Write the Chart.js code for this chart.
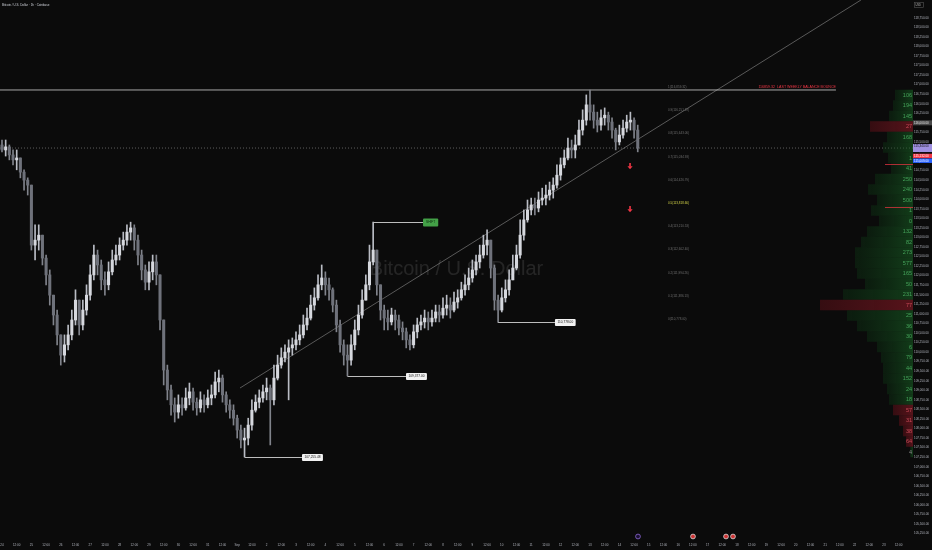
<!DOCTYPE html>
<html>
<head>
<meta charset="utf-8">
<title>BTCUSD 1h</title>
<script src="https://cdn.jsdelivr.net/npm/chart.js@4.4.1/dist/chart.umd.min.js"></script>
<style>
  html, body { margin: 0; padding: 0; background: #0b0b0b; }
  #box { width: 932px; height: 550px; }
</style>
</head>
<body>
<div id="box"><canvas id="btcChart" width="932" height="550"></canvas></div>
<script>
// time axis: one name per day, Aug 24 .. Sep 23
const dayNames = ['24','25','26','27','28','29','30','31','Sep','2','3','4','5','6','7','8','9','10','11','12','13','14','15','16','17','18','19','20','21','22','23'];

// 3h candles (first candle starts Aug 24 00:00)
const firstOpen = 115420;
const closes = [
  115290,115370,115160,115030,115080,114710,114500,114370,112800,112930,
  113060,112460,112020,111490,110970,110450,109920,110190,110450,110840,
  111360,110710,111100,111490,112020,112540,112280,111890,111760,112100,
  112410,112540,112800,112930,113140,113250,112930,112540,112150,111830,
  112100,112360,112020,110840,109530,109010,108620,108430,108620,108540,
  108800,108960,108690,108540,108750,108620,108800,108880,109220,109320,
  108880,108620,108480,108270,107960,107700,107750,108090,108480,108690,
  108800,108960,109060,108750,109320,109660,109850,110000,110110,110190,
  110320,110450,110710,110890,111230,111420,111760,111940,111760,111630,
  111230,110710,110190,109920,109790,110190,110580,110970,111360,111760,
  112360,112670,111760,111100,110890,110790,110970,110840,110630,110530,
  110320,110190,110530,110710,110790,110890,110790,110890,111050,110970,
  111150,111230,111100,111310,111420,111630,111760,111940,112150,112360,
  112540,112800,112930,112200,111360,111100,111420,111630,111890,112200,
  112540,113060,113460,113720,113850,113770,113980,114030,114110,114240,
  114370,114630,114900,115080,115340,115290,115420,115810,116070,116470,
  116280,116070,115940,116130,116200,116020,115810,115500,115680,115860,
  116020,116070,115810,115340
];
const highs = [
  115550,115550,115420,115290,115290,115030,114770,114560,114370,113330,
  113330,113060,112540,112150,111490,111100,110450,110450,110710,111100,
  111630,111360,111360,111760,112280,112800,112670,112410,112100,112360,
  112670,112800,112990,113140,113330,113400,113330,113060,112670,112280,
  112360,112540,112540,112020,110840,109660,109140,108800,108880,108800,
  109060,109190,109060,108800,108960,108880,109010,109140,109480,109530,
  109400,108960,108750,108620,108350,108090,108010,108270,108750,108880,
  109010,109140,109320,109140,109660,109920,110110,110190,110320,110370,
  110530,110710,110970,111150,111490,111680,112020,112280,112100,111940,
  111680,111360,110840,110320,110190,110450,110840,111230,111630,112020,
  112800,113405,112670,111760,111230,111100,111150,111100,110970,110790,
  110630,110450,110710,110890,110970,111100,111050,111100,111230,111230,
  111420,111490,111420,111570,111630,111830,112020,112200,112410,112540,
  112800,113060,113200,112930,112280,111490,111680,111890,112150,112540,
  112800,113460,113720,113980,114030,114030,114190,114290,114370,114450,
  114560,114900,115080,115290,115600,115550,115680,116070,116340,116730,
  116859.32,116470,116280,116340,116390,116280,116130,115860,115940,116070,
  116200,116280,116130,115940
];
const lows = [
  115240,115130,115030,114900,114770,114560,114240,114110,112670,112410,
  112670,112280,111760,111230,110710,110190,109660,109740,110060,110320,
  110710,110450,110580,110970,111360,111890,112020,111630,111490,111630,
  112020,112280,112410,112670,112800,112930,112670,112280,111890,111630,
  111630,111890,111760,110580,109140,108750,108350,108170,108270,108350,
  108480,108620,108480,108350,108430,108430,108540,108620,108800,108960,
  108690,108430,108270,108090,107750,107490,107255.48,107570,107960,108430,
  108540,108690,108750,107570,108620,109270,109580,109740,108750,109920,
  110060,110190,110370,110580,110840,111100,111360,111630,111490,111360,
  111050,110530,110000,109660,109377.00,109660,110060,110450,110890,111360,
  111630,112280,111490,110840,110580,110580,110710,110580,110450,110320,
  110110,110060,110110,110370,110580,110630,110580,110680,110790,110790,
  110890,110970,110890,111050,111150,111360,111490,111630,111830,112020,
  112200,112460,112540,111940,111100,110778.00,111050,111310,111490,111890,
  112150,112460,112930,113400,113590,113590,113670,113850,113850,113980,
  114030,114290,114500,114820,115030,115080,115080,115420,115680,115940,
  116070,115860,115760,115810,115940,115810,115600,115290,115420,115600,
  115760,115810,115600,115240
];

// y axis range and x axis range (hours from Aug 24 00:00)
const priceMin = 105135, priceMax = 119214;
const hourMin = -1.63, hourMax = 743.7;

// drawn levels
const balancePrice = 116859.32;
const balanceEndHour = 680.8;
const balanceText = '116859.32  LAST WEEKLY BALANCE BOUNCE';
const trendHours = [194.3, 701.2];
const trendPrices = [109060, 119214];

// equal-step levels between the weekly high and the last higher low
const levelRatios = ['1', '0.9', '0.8', '0.7', '0.6', '0.5', '0.4', '0.3', '0.2', '0.1', '0'];
const levelPrices = [116859.32, 116251.19, 115643.06, 115034.93, 114426.79, 113818.66, 113210.53, 112602.40, 111994.26, 111386.13, 110778.00];
const levelLabelHour = 543.7;

// swing notes
const noteHours = [198, 282, 405, 303];
const noteEndHours = [244.9, 329.8, 451.4, 343.7];
const notePrices = [107255.48, 109377.00, 110778.00, 113405.00];
const noteTexts = ['107,255.48', '109,377.00', '110,778.00', 'SHIFT'];

// sell arrows
const arrowHours = [512.7, 512.7];
const arrowPrices = [114844, 113718];

// volume profile rows (bucket centre price, volume, delta, side)
const profilePrices = [116728,116453,116178,115904,115629,115354,115079,114804,114530,114255,113980,113705,113430,113156,112881,112606,112331,112056,111782,111507,111232,110957,110682,110408,110133,109858,109583,109308,109034,108759,108484,108209,107934,107660,107385];
const profileVol = [18,20,24,43,26,30,25,22,38,45,36,42,34,46,52,58,58,56,48,70,93,66,56,46,36,32,30,30,26,24,20,14,10,7,3];
const profileDelta = ['106','194','145','27','168','','1','41','250','240','500','1','0','132','82','273','577','165','50','231','77','25','36','30','6','79','44','152','24','18','57','31','38','64','4'];
const profileSide = ['b','b','b','s','b','b','b','b','b','b','b','b','b','b','b','b','b','b','b','b','s','b','b','b','b','b','b','b','b','b','s','s','s','s','n'];

const FONT = '"Liberation Sans", Arial, sans-serif';

const opens = closes.map((c, i) => i === 0 ? firstOpen : closes[i - 1]);
const hi = highs.map((h, i) => Math.max(h, opens[i], closes[i]));
const lo = lows.map((l, i) => Math.min(l, opens[i], closes[i]));
const lastClose = closes[closes.length - 1];

function fmt(p) {
  return p.toLocaleString('en-US', { minimumFractionDigits: 2, maximumFractionDigits: 2 });
}

// everything TradingView draws on top of the candles
const overlayPlugin = {
  id: 'overlay',
  beforeDatasetsDraw(chart) {
    const { ctx, chartArea } = chart;
    ctx.save();
    ctx.font = '20px ' + FONT;
    ctx.fillStyle = 'rgba(255,255,255,0.11)';
    ctx.textAlign = 'center';
    ctx.textBaseline = 'middle';
    ctx.fillText('Bitcoin / U.S. Dollar', (chartArea.left + chartArea.right) / 2, (chartArea.top + chartArea.bottom) / 2);
    ctx.restore();
  },
  afterDatasetsDraw(chart) {
    const { ctx, chartArea } = chart;
    const xs = chart.scales.x, ys = chart.scales.y;
    ctx.save();

    // volume profile
    const rowH = Math.abs(ys.getPixelForValue(0) - ys.getPixelForValue(274.8));
    const maxVol = Math.max(...profileVol);
    profilePrices.forEach((p, i) => {
      const y = ys.getPixelForValue(p);
      const w = profileVol[i] / maxVol * 93;
      const x0 = chartArea.right - w;
      const g = ctx.createLinearGradient(x0, 0, chartArea.right, 0);
      if (profileSide[i] === 's') {
        g.addColorStop(0, 'rgba(90,16,24,0.55)');
        g.addColorStop(1, 'rgba(120,24,34,0.7)');
      } else {
        g.addColorStop(0, 'rgba(14,60,22,0.35)');
        g.addColorStop(1, 'rgba(24,95,36,0.6)');
      }
      ctx.fillStyle = g;
      ctx.fillRect(x0, y - rowH / 2, w, rowH);
    });
    ctx.font = '5.5px ' + FONT;
    ctx.textAlign = 'right';
    ctx.textBaseline = 'middle';
    profilePrices.forEach((p, i) => {
      const s = profileSide[i];
      ctx.fillStyle = s === 's' ? '#c94a58' : (s === 'n' ? '#8a8a8a' : '#45a35a');
      ctx.fillText(profileDelta[i], chartArea.right - 1, ys.getPixelForValue(p));
    });

    // balance level text
    ctx.font = '3.6px ' + FONT;
    ctx.fillStyle = '#f23645';
    ctx.textAlign = 'right';
    ctx.textBaseline = 'bottom';
    ctx.fillText(balanceText, xs.getPixelForValue(balanceEndHour), ys.getPixelForValue(balancePrice) - 1.5);

    // level labels
    ctx.font = '3px ' + FONT;
    ctx.textAlign = 'left';
    ctx.textBaseline = 'middle';
    levelPrices.forEach((p, i) => {
      ctx.fillStyle = levelRatios[i] === '0.5' ? '#d8d84a' : '#6f6f6f';
      ctx.fillText(levelRatios[i] + '(' + fmt(p) + ')', xs.getPixelForValue(levelLabelHour), ys.getPixelForValue(p) - 3);
    });

    // swing notes
    noteHours.forEach((h, i) => {
      const y = Math.round(ys.getPixelForValue(notePrices[i])) + 0.5;
      const x0 = xs.getPixelForValue(h), x1 = xs.getPixelForValue(noteEndHours[i]);
      ctx.strokeStyle = '#bdbdbd';
      ctx.lineWidth = 1;
      ctx.beginPath(); ctx.moveTo(x0, y); ctx.lineTo(x1, y); ctx.stroke();
      ctx.font = '3.2px ' + FONT;
      const tw = ctx.measureText(noteTexts[i]).width;
      const shift = noteTexts[i] === 'SHIFT';
      const bw = tw + (shift ? 6 : 5), bh = shift ? 8 : 7;
      ctx.fillStyle = shift ? '#43a047' : '#f2f2f2';
      ctx.beginPath();
      ctx.roundRect(x1, y - bh / 2, bw, bh, 1);
      ctx.fill();
      ctx.fillStyle = shift ? '#0c2a0e' : '#111';
      ctx.textAlign = 'center';
      ctx.fillText(noteTexts[i], x1 + bw / 2, y);
    });

    // sell arrows and their axis ticks
    arrowHours.forEach((h, i) => {
      const x = xs.getPixelForValue(h), y = ys.getPixelForValue(arrowPrices[i]);
      ctx.fillStyle = '#f23645';
      ctx.fillRect(x - 0.8, y - 4, 1.6, 3.5);
      ctx.beginPath();
      ctx.moveTo(x - 2.6, y - 0.8); ctx.lineTo(x + 2.6, y - 0.8); ctx.lineTo(x, y + 2.2);
      ctx.closePath(); ctx.fill();
      const ty = Math.round(y - 3) + 0.5;
      ctx.strokeStyle = 'rgba(242,54,69,0.7)';
      ctx.beginPath(); ctx.moveTo(chartArea.right - 28, ty); ctx.lineTo(chartArea.right, ty); ctx.stroke();
    });
    ctx.restore();
  },
  afterDraw(chart) {
    const { ctx, chartArea } = chart;
    const ys = chart.scales.y;
    ctx.save();
    // title
    ctx.font = '3px ' + FONT;
    ctx.fillStyle = '#d1d4dc';
    ctx.textAlign = 'left';
    ctx.textBaseline = 'middle';
    ctx.fillText('Bitcoin / U.S. Dollar · 1h · Coinbase', 2, 5);

    // USD box
    ctx.strokeStyle = '#555';
    ctx.lineWidth = 0.6;
    ctx.strokeRect(914.5, 2.5, 9, 5);
    ctx.fillStyle = '#bbb';
    ctx.font = '2.6px ' + FONT;
    ctx.fillText('USD', 915.5, 5);

    // axis price boxes
    const boxes = [
      { p: 116000, bg: '#4a4a4a', fg: '#e0e0e0', t: '116,000.00', h: 5 },
      { p: lastClose, bg: '#9e8fe0', fg: '#111', t: fmt(lastClose), h: 8 },
      { p: 115132, bg: '#f23645', fg: '#fff', t: '115,132.00', h: 4.5 },
      { p: 115009, bg: '#2962ff', fg: '#fff', t: '115,009.00', h: 4.5 }
    ];
    boxes.forEach(b => {
      const y = ys.getPixelForValue(b.p);
      ctx.fillStyle = b.bg;
      ctx.fillRect(chartArea.right, y - b.h / 2, 19, b.h);
      ctx.fillStyle = b.fg;
      ctx.font = '3px ' + FONT;
      ctx.fillText(b.t, chartArea.right + 1, b.h > 6 ? y - 1.5 : y);
    });

    // event icons on the time axis
    [[638, '#8e6ad8'], [693, '#d9d9d9'], [726, '#d9d9d9'], [733, '#d9d9d9']].forEach(([x, c]) => {
      ctx.beginPath();
      ctx.arc(x, 536.5, 2.4, 0, Math.PI * 2);
      ctx.fillStyle = c === '#8e6ad8' ? '#1a1030' : '#c33';
      ctx.fill();
      ctx.strokeStyle = c;
      ctx.lineWidth = 0.8;
      ctx.stroke();
    });
    ctx.restore();
  }
};

const candleHours = closes.map((c, i) => i * 3);

new Chart(document.getElementById('btcChart'), {
  type: 'bar',
  data: {
    datasets: [
      {
        type: 'line',
        data: [{ x: hourMin, y: balancePrice }, { x: balanceEndHour, y: balancePrice }],
        borderColor: '#a8a8a8', borderWidth: 1, pointRadius: 0, order: 5
      },
      {
        type: 'line',
        data: [{ x: hourMin, y: lastClose }, { x: hourMax, y: lastClose }],
        borderColor: 'rgba(160,160,160,0.55)', borderWidth: 1, borderDash: [1, 2], pointRadius: 0, order: 5
      },
      {
        type: 'line',
        data: [{ x: trendHours[0], y: trendPrices[0] }, { x: trendHours[1], y: trendPrices[1] }],
        borderColor: 'rgba(200,200,200,0.6)', borderWidth: 0.7, pointRadius: 0, order: 4
      },
      {
        // wicks
        data: candleHours.map((h, i) => ({ x: h, y: [lo[i], hi[i]] })),
        backgroundColor: candleHours.map((h, i) => closes[i] >= opens[i] ? '#b9bcc4' : '#80838b'),
        barThickness: 1, grouped: false, order: 2
      },
      {
        // bodies
        data: candleHours.map((h, i) => ({ x: h, y: [opens[i], closes[i]] })),
        backgroundColor: candleHours.map((h, i) => closes[i] >= opens[i] ? '#d6d8de' : '#6f727b'),
        barThickness: 2.4, grouped: false, order: 1
      }
    ]
  },
  options: {
    responsive: false,
    animation: false,
    events: [],
    layout: { padding: 0 },
    plugins: { legend: { display: false }, tooltip: { enabled: false } },
    scales: {
      x: {
        type: 'linear',
        offset: false,
        min: hourMin, max: hourMax,
        grid: { display: false, drawTicks: false }, border: { display: false },
        afterFit: s => { s.height = 12; s.paddingLeft = 0; s.paddingRight = 0; },
        ticks: {
          stepSize: 12, includeBounds: false, autoSkip: false, maxRotation: 0,
          padding: 5.5, color: '#b2b5be', font: { size: 3, family: FONT },
          callback: v => (v % 24 === 0 ? dayNames[v / 24] : '12:00')
        }
      },
      y: {
        position: 'right',
        min: priceMin, max: priceMax,
        grid: { display: false, drawTicks: false }, border: { display: false },
        afterFit: s => { s.width = 19; s.paddingTop = 0; s.paddingBottom = 0; },
        ticks: {
          stepSize: 250, includeBounds: false, autoSkip: false,
          padding: 1, color: '#b2b5be', font: { size: 3, family: FONT },
          callback: v => (v > 118800 ? '' : fmt(v))
        }
      }
    }
  },
  plugins: [overlayPlugin]
});
</script>
</body>
</html>
